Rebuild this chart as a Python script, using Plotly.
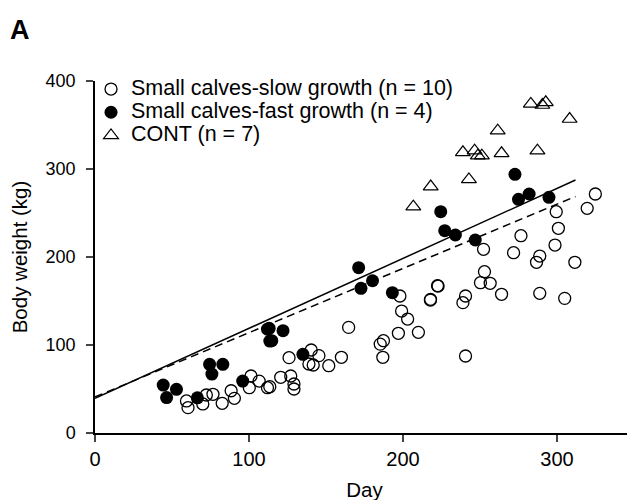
import plotly.graph_objects as go

# Small calves - slow growth (open circles)
slow_day = [59.4, 60.4, 70, 72.3, 76.6, 82.6, 88.4, 90.5, 100.2, 101.3, 106.6, 112, 113.5,
            120.6, 127.1, 129.2, 129.2, 126, 138.9, 140.4, 141.7, 145.4, 151.8, 160, 164.7,
            185.2, 186.9, 187.3, 197, 198, 199.1, 203, 210, 217.8, 217.9, 222.4, 222.8,
            238.9, 240.6, 240.6, 250.3, 252.3, 252.9, 256.6, 264, 271.8, 276.6, 286.7,
            288.8, 288.8, 298.7, 299.5, 300.9, 305, 311.6, 319.6, 324.9]
slow_bw = [36.4, 28.8, 33, 43.2, 44, 33.7, 48, 39.4, 51.5, 64.8, 59, 51.5, 52.6,
           63.3, 64.8, 55.7, 50, 85.6, 78.4, 94.3, 77.3, 87.9, 76.5, 86, 120,
           101, 86, 104.9, 113.3, 155.7, 138.6, 129.5, 114.4, 151, 151.9, 167.4, 167,
           148.1, 155.7, 87.5, 170.8, 208.7, 183.3, 170.1, 157.6, 204.9, 224.2, 194,
           201.1, 158.7, 213.6, 251.5, 232.6, 153, 194, 255.3, 271.6]

# Small calves - fast growth (filled circles)
fast_day = [44.3, 46.5, 52.9, 66.5, 74.4, 75.9, 83, 95.9, 112, 113.5, 113.1, 114.8, 122.1,
            135, 171.2, 172.7, 180.2, 193.1, 224.5, 227.1, 234, 246.9, 272.7, 275, 281.9, 294.8]
fast_bw = [54.5, 40.2, 49.6, 40, 78, 67, 78, 59, 118, 104.5, 119, 104.9, 116.3,
           89.4, 187.9, 164.4, 173, 159.5, 251.5, 229.9, 225, 219.3, 294, 265.5, 271.6, 267.8]

# CONT (open triangles)
cont_day = [206.7, 218, 238.9, 242.8, 246.5, 248.6, 251.2, 261.5, 264, 283, 287.3, 290.5, 292.7, 308.2]
cont_bw = [257.2, 280, 319, 288.2, 320.8, 315.1, 315.1, 343.5, 317.8, 373.9, 320.8, 372.7, 375.8, 356.8]

# Regression lines (intercept, slope) and day span
fast_fit = [39.4, 0.795]
slow_fit = [41.0, 0.73]
fit_days = [0, 312]

series_names = ["Small calves-slow growth (n = 10)",
                "Small calves-fast growth (n = 4)",
                "CONT (n = 7)"]

x_ticks = [0, 100, 200, 300]
y_ticks = [0, 100, 200, 300, 400]

FONT = "Liberation Sans, Arial, sans-serif"

# page body has an 8px margin; plot area in the screenshot is x 93..634, y 81..433
OFF = 8
L, T = 93 - OFF, 81 - OFF
PW, PH = 541, 352
W, H = 635, 500

fig = go.Figure()

fig.add_trace(go.Scatter(
    x=fit_days, y=[fast_fit[0] + fast_fit[1] * d for d in fit_days],
    mode="lines", line=dict(color="black", width=1.5), showlegend=False, hoverinfo="skip"))
fig.add_trace(go.Scatter(
    x=fit_days, y=[slow_fit[0] + slow_fit[1] * d for d in fit_days],
    mode="lines", line=dict(color="black", width=1.5, dash="8px,5px"), showlegend=False, hoverinfo="skip"))


def lg(name):
    return '<span style="font-size:21.5px">' + name + '</span>'


fig.add_trace(go.Scatter(
    x=slow_day, y=slow_bw, mode="markers", name=lg(series_names[0]),
    marker=dict(symbol="circle-open", size=12, color="black", line=dict(width=1.3))))
fig.add_trace(go.Scatter(
    x=fast_day, y=fast_bw, mode="markers", name=lg(series_names[1]),
    marker=dict(symbol="circle", size=13, color="black")))
fig.add_trace(go.Scatter(
    x=cont_day, y=cont_bw, mode="markers", name=lg(series_names[2]),
    marker=dict(symbol="triangle-up-open", size=13, color="black", line=dict(width=1.2))))

fig.update_layout(
    width=W, height=H,
    margin=dict(l=L, r=W - L - PW, t=T, b=H - T - PH),
    paper_bgcolor="white", plot_bgcolor="white",
    font=dict(family=FONT, size=20, color="black"),
    legend=dict(x=(81 - L) / PW, y=1 + (T - 64.5) / PH, xanchor="left", yanchor="top",
                bgcolor="rgba(0,0,0,0)", font=dict(size=15.5), tracegroupgap=0,
                itemsizing="trace"),
)
fig.add_annotation(text="<b>A</b>", xref="paper", yref="paper",
                   x=(18 - OFF - L) / PW, y=1 + (T - (30 - OFF)) / PH,
                   xanchor="center", yanchor="middle", showarrow=False,
                   font=dict(size=27, family=FONT))

fig.update_xaxes(
    range=[0, 350], tickvals=x_ticks, ticks="outside", ticklen=7, tickwidth=1.5,
    showline=True, linecolor="black", linewidth=1.5, showgrid=False, zeroline=False,
    title=dict(text="Day", standoff=14, font=dict(size=20.5)), tickfont=dict(size=20))
fig.update_yaxes(
    range=[0, 400], tickvals=y_ticks, ticks="outside", ticklen=7, tickwidth=1.5,
    ticklabelstandoff=7,
    showline=True, linecolor="black", linewidth=1.5, showgrid=False, zeroline=False,
    title=dict(text="Body weight (kg)", standoff=14, font=dict(size=20.5)), tickfont=dict(size=18))

fig.write_html("out.html")
